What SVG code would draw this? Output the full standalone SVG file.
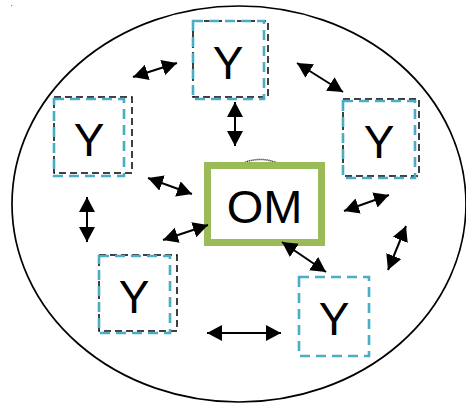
<svg xmlns="http://www.w3.org/2000/svg" width="466" height="404" viewBox="0 0 466 404">
<style>
.cy{fill:none;stroke:#4BACC6;stroke-width:2.6;stroke-dasharray:10 6}
.bk{fill:none;stroke:#000;stroke-width:1.5;stroke-dasharray:7 4}
.lbl{font-family:"Liberation Sans",Arial,sans-serif;font-size:46px;fill:#000;text-anchor:middle}
.ar{stroke:#000;stroke-width:2;fill:none;marker-start:url(#ah);marker-end:url(#ah)}
</style>
<defs>
<marker id="ah" markerUnits="userSpaceOnUse" markerWidth="17" markerHeight="17" refX="15" refY="8" orient="auto-start-reverse">
<path d="M0,0 L15,8 L0,16 Z" fill="#000"/>
</marker>
</defs>
<rect x="0" y="0" width="466" height="404" fill="#fff"/>
<rect x="11" y="5" width="1.2" height="1.2" fill="#888"/>
<ellipse cx="239" cy="204" rx="227" ry="198" fill="none" stroke="#000" stroke-width="1.7"/>
<g id="y-top">
<rect class="bk" x="193" y="21" width="75" height="76"/>
<rect class="cy" x="193" y="21" width="71" height="78"/>
<text class="lbl" x="228" y="79">Y</text>
</g>
<g id="y-left">
<rect class="bk" x="54" y="97" width="78" height="76"/>
<rect class="cy" x="54" y="99" width="70" height="77"/>
<text class="lbl" x="89" y="156">Y</text>
</g>
<g id="y-right">
<rect class="bk" x="343" y="99" width="76" height="77"/>
<rect class="cy" x="343" y="101" width="72" height="77"/>
<text class="lbl" x="379" y="158">Y</text>
</g>
<g id="y-bottom-left">
<rect class="bk" x="99" y="255" width="78" height="76"/>
<rect class="cy" x="99" y="256" width="71" height="77"/>
<text class="lbl" x="134" y="313">Y</text>
</g>
<g id="y-bottom-right">
<rect class="cy" x="299" y="277" width="70" height="79"/>
<text class="lbl" x="334" y="335">Y</text>
</g>
<g id="om">
<path d="M243,163 Q260,156 278,163" fill="none" stroke="#000" stroke-width="1.5" stroke-dasharray="1 1"/>
<rect x="207.5" y="165.5" width="114" height="77" fill="#fff" stroke="#9BBB59" stroke-width="7"/>
<text class="lbl" x="264.5" y="223" style="font-size:47px">OM</text>
</g>
<g id="connectors">
<line class="ar" x1="133" y1="77" x2="177" y2="63"/>
<line class="ar" x1="235" y1="102" x2="235" y2="146"/>
<line class="ar" x1="297" y1="63" x2="343" y2="92"/>
<line class="ar" x1="87" y1="197" x2="87" y2="242"/>
<line class="ar" x1="148" y1="178" x2="192" y2="194"/>
<line class="ar" x1="163" y1="240" x2="208" y2="225"/>
<line class="ar" x1="282" y1="242" x2="326" y2="272"/>
<line class="ar" x1="344" y1="211" x2="389" y2="195"/>
<line class="ar" x1="388" y1="270" x2="406" y2="226"/>
<line class="ar" x1="207" y1="333" x2="281" y2="333"/>
</g>
</svg>
